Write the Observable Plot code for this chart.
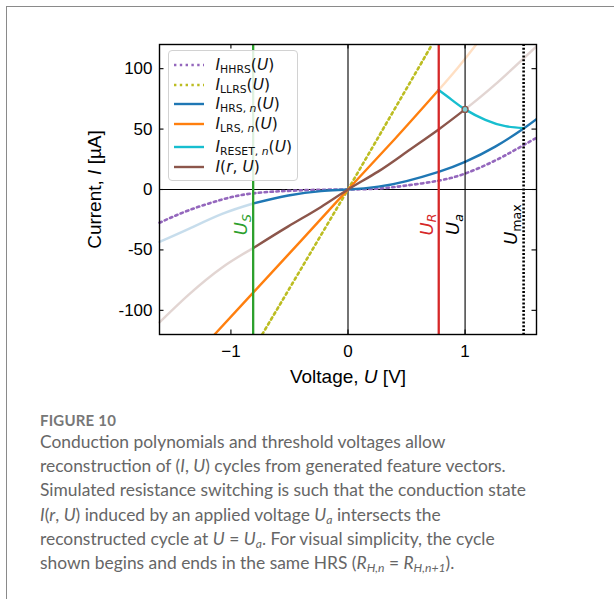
<!DOCTYPE html>
<html><head><meta charset="utf-8">
<script src="https://cdn.jsdelivr.net/npm/d3@7"></script>
<script src="https://cdn.jsdelivr.net/npm/@observablehq/plot@0.6"></script>
<style>
html,body{margin:0;padding:0;background:#fff;overflow:hidden;width:614px;height:599px;}
#box{position:absolute;left:6px;top:6px;width:640px;height:640px;border:1.5px solid #8a8a8a;}
#chart{position:absolute;left:0;top:0;}
#chart svg{font-family:'Liberation Sans',Arial,sans-serif;}
#legend{position:absolute;left:167.5px;top:50px;width:128px;height:129px;border:1px solid #d2d2d2;border-radius:4px;background:rgba(255,255,255,0.85);font-family:'DejaVu Sans',sans-serif;font-size:15.5px;color:#111;}
#legend .row{position:absolute;left:0;height:20px;}
#legend svg{position:absolute;left:5px;top:9px;}
#legend .lab{position:absolute;left:47px;top:0;white-space:nowrap;line-height:20px;}
#legend sub{font-size:70%;font-style:normal;vertical-align:-0.3em;line-height:0;}
#caption{position:absolute;left:40px;top:411px;width:570px;font-family:Lato,'Open Sans',sans-serif;color:#666;}
#caption .fig{font-size:15px;font-weight:bold;color:#777;letter-spacing:0.2px;}
#caption .txt{font-size:17.4px;line-height:24.2px;margin-top:1px;}
#caption sub{font-size:70%;vertical-align:-0.25em;line-height:0;}
</style></head><body>
<div id="box"></div>
<div id="chart"></div>
<div id="legend"></div>
<div id="caption">
<div class="fig">FIGURE 10</div>
<div class="txt">Conduction polynomials and threshold voltages allow<br>reconstruction of (<i>I</i>, <i>U</i>) cycles from generated feature vectors.<br>Simulated resistance switching is such that the conduction state<br><i>I</i>(<i>r</i>, <i>U</i>) induced by an applied voltage <i>U<sub>a</sub></i> intersects the<br>reconstructed cycle at <i>U</i> = <i>U<sub>a</sub></i>. For visual simplicity, the cycle<br>shown begins and ends in the same HRS (<i>R<sub>H,n</sub></i> = <i>R<sub>H,n+1</sub></i>).</div>
</div>
<script>
// ---- data ----
const xTicks = [-1, 0, 1];
const yTicks = [-100, -50, 0, 50, 100];
const xDomain = [-1.61, 1.61];
const yDomain = [-120, 120];

// I_HHRS(U) (dotted purple)
const hhrsU = [-1.61, -1.36, -1.075, -0.82, -0.51, -0.23, 0, 0.26, 0.5, 0.774, 1.0, 1.258, 1.486, 1.61];
const hhrsI = [-27.5, -17.2, -8.3, -3.3, -1.1, -0.2, 0, 0.8, 3.3, 7.3, 13.2, 24.0, 36.0, 42.8];
// I_LLRS(U) (dotted olive)
const llrsU = [-0.733, 0, 0.718];
const llrsI = [-120, 0, 120];
// I_HRS,n(U) blue: faded part (U < U_S) and solid part
const hrsFadedU = [-1.61, -1.36, -1.075, -0.81];
const hrsFadedI = [-43.4, -32.6, -20.2, -11.6];
const hrsU = [-0.81, -0.51, -0.23, 0, 0.26, 0.5, 0.774, 1.0, 1.258, 1.5, 1.61];
const hrsI = [-11.6, -5.0, -1.3, 0, 2.4, 7.0, 14.6, 22.9, 35.5, 50.5, 58.2];
// I_LRS,n(U) orange: solid up to U_R, faded beyond
const lrsU = [-1.14, -0.81, -0.4, 0, 0.4, 0.774];
const lrsI = [-120, -85.3, -42.3, 0, 41.8, 82.3];
const lrsFadedU = [0.774, 0.94, 1.095];
const lrsFadedI = [82.3, 101, 120];
// I_RESET,n(U) cyan
const resetU = [0.774, 0.889, 1.0, 1.173, 1.344, 1.5];
const resetI = [82.3, 74, 66.3, 57.6, 52.4, 50.8];
// I(r,U) brown: faded left, solid middle, faded right
const rFadedLU = [-1.61, -1.36, -1.075, -0.81];
const rFadedLI = [-110, -87, -64.5, -48.5];
const rU = [-0.81, -0.51, -0.23, 0, 0.26, 0.5, 0.774, 1.0];
const rI = [-48.5, -30.5, -14.4, 0, 15, 31, 49.7, 66.3];
const rFadedRU = [1.0, 1.258, 1.61];
const rFadedRI = [66.3, 87, 118.5];
// intersection point at U = U_a
const crossU = [1.0];
const crossI = [66.3];
// threshold voltages
const markerU = [-0.81, 0.775, 1.0, 1.5];
const markerLabel = ["US", "UR", "Ua", "Umax"];
const markerColor = ["#2ca02c", "#d62728", "#000000", "#000000"];
// legend
const legendLabels = [
  '<i>I</i><sub>HHRS</sub>(<i>U</i>)',
  '<i>I</i><sub>LLRS</sub>(<i>U</i>)',
  '<i>I</i><sub>HRS, <i>n</i></sub>(<i>U</i>)',
  '<i>I</i><sub>LRS, <i>n</i></sub>(<i>U</i>)',
  '<i>I</i><sub>RESET, <i>n</i></sub>(<i>U</i>)',
  '<i>I</i>(<i>r</i>, <i>U</i>)'
];
const legendColors = ["#9467bd", "#bcbd22", "#1f77b4", "#ff7f0e", "#17becf", "#8c564b"];
const legendDotted = [true, true, false, false, false, false];

// ---- build ----
const pts = (U, I) => U.map((u, k) => ({u, i: I[k]}));
const C = {purple:"#9467bd", olive:"#bcbd22", blue:"#1f77b4", orange:"#ff7f0e", cyan:"#17becf", brown:"#8c564b"};
const LW = 2.4, FADE = 0.25, DOT = "2.4,3.4";
const markers = markerU.map((u, k) => ({u, label: markerLabel[k], color: markerColor[k]}));
const fmtX = d => d < 0 ? "\u2212" + Math.abs(d) : String(d);
const FF = "'Liberation Sans', Arial, sans-serif";

const plot = Plot.plot({
  width: 614, height: 395,
  marginLeft: 159, marginRight: 78, marginTop: 44, marginBottom: 61,
  x: {domain: xDomain},
  y: {domain: yDomain},
  style: {fontFamily: FF, fontSize: "17px", background: "transparent", color: "#000", overflow: "visible"},
  marks: [
    Plot.ruleY([0], {stroke: "black", strokeWidth: 1.1}),
    Plot.ruleX([0], {stroke: "black", strokeWidth: 1.1}),
    // faded parts
    Plot.line(pts(hrsFadedU, hrsFadedI), {x: "u", y: "i", stroke: C.blue, strokeWidth: LW, strokeOpacity: FADE, curve: "natural"}),
    Plot.line(pts(rFadedLU, rFadedLI), {x: "u", y: "i", stroke: C.brown, strokeWidth: LW, strokeOpacity: FADE, curve: "natural"}),
    Plot.line(pts(rFadedRU, rFadedRI), {x: "u", y: "i", stroke: C.brown, strokeWidth: LW, strokeOpacity: FADE, curve: "natural", clip: true}),
    Plot.line(pts(lrsFadedU, lrsFadedI), {x: "u", y: "i", stroke: C.orange, strokeWidth: LW, strokeOpacity: FADE, curve: "natural", clip: true}),
    // dotted envelopes
    Plot.line(pts(hhrsU, hhrsI), {x: "u", y: "i", stroke: C.purple, strokeWidth: 2.6, strokeDasharray: DOT, curve: "natural"}),
    Plot.line(pts(llrsU, llrsI), {x: "u", y: "i", stroke: C.olive, strokeWidth: 2.6, strokeDasharray: DOT, clip: true}),
    // solid parts
    Plot.line(pts(hrsU, hrsI), {x: "u", y: "i", stroke: C.blue, strokeWidth: LW, curve: "natural", clip: true}),
    Plot.line(pts(lrsU, lrsI), {x: "u", y: "i", stroke: C.orange, strokeWidth: LW, curve: "natural", clip: true}),
    Plot.line(pts(resetU, resetI), {x: "u", y: "i", stroke: C.cyan, strokeWidth: LW, curve: "natural"}),
    Plot.line(pts(rU, rI), {x: "u", y: "i", stroke: C.brown, strokeWidth: LW, curve: "natural"}),
    // threshold voltage lines
    Plot.ruleX(markers.filter(d => d.label === "US" || d.label === "UR"), {x: "u", stroke: "color", strokeWidth: 2.3}),
    Plot.ruleX(markers.filter(d => d.label === "Ua"), {x: "u", stroke: "color", strokeWidth: 1.1}),
    Plot.ruleX(markers.filter(d => d.label === "Umax"), {x: "u", stroke: "color", strokeWidth: 2.6, strokeDasharray: "2,1.8"}),
    Plot.dot(pts(crossU, crossI), {x: "u", y: "i", r: 3, stroke: C.brown, fill: "#7fcfd6", strokeWidth: 1.3}),
    Plot.text(markers, {x: "u", y: -29, text: "label", rotate: -90, dx: -12, fill: "color", fontSize: 18, fontFamily: "'DejaVu Sans', sans-serif", textAnchor: "middle", lineAnchor: "middle"}),
    // frame + inward ticks on all sides
    Plot.frame({stroke: "black", strokeWidth: 1.4}),
    Plot.ruleX(xTicks, {x: d => d, y1: yDomain[0], y2: yDomain[0], insetTop: -4.5, stroke: "black", strokeWidth: 1.1}),
    Plot.ruleX(xTicks, {x: d => d, y1: yDomain[1], y2: yDomain[1], insetBottom: -4.5, stroke: "black", strokeWidth: 1.1}),
    Plot.ruleY(yTicks, {y: d => d, x1: xDomain[0], x2: xDomain[0], insetRight: -4.5, stroke: "black", strokeWidth: 1.1}),
    Plot.ruleY(yTicks, {y: d => d, x1: xDomain[1], x2: xDomain[1], insetLeft: -4.5, stroke: "black", strokeWidth: 1.1}),
    Plot.axisX(xTicks, {tickSize: 0, tickPadding: 10, tickFormat: fmtX, label: null, fontSize: 17, fontFamily: FF}),
    Plot.axisY(yTicks, {tickSize: 0, tickPadding: 7, tickFormat: d => String(d), label: null, fontSize: 17, fontFamily: FF}),
    Plot.text(["XLABEL"], {frameAnchor: "bottom", dy: 42, text: d => d, fontSize: 19, fontFamily: FF, lineAnchor: "middle", textAnchor: "middle"}),
    Plot.text(["YLABEL"], {frameAnchor: "left", dx: -65, rotate: -90, text: d => d, fontSize: 19, fontFamily: FF, lineAnchor: "middle", textAnchor: "middle"})
  ]
});
document.getElementById("chart").appendChild(plot);

// rich text for labels (italic math symbols, subscripts)
const markup = {
  XLABEL: 'Voltage, <tspan font-style="italic">U</tspan> [V]',
  YLABEL: 'Current, <tspan font-style="italic">I</tspan> [\u00b5A]',
  US: '<tspan font-style="italic">U</tspan><tspan font-style="italic" font-size="0.7em" dy="0.3em">S</tspan>',
  UR: '<tspan font-style="italic">U</tspan><tspan font-style="italic" font-size="0.7em" dy="0.3em">R</tspan>',
  Ua: '<tspan font-style="italic">U</tspan><tspan font-style="italic" font-size="0.7em" dy="0.3em">a</tspan>',
  Umax: '<tspan font-style="italic">U</tspan><tspan font-size="0.7em" dy="0.3em">max</tspan>'
};
plot.querySelectorAll("text").forEach(t => {
  const s = t.textContent;
  if (markup[s]) t.innerHTML = markup[s];
});

// legend
const legend = document.getElementById("legend");
const rowCenters = [14.3, 33.5, 53.3, 72.7, 96, 116];
legendLabels.forEach((lab, k) => {
  const row = document.createElement("div");
  row.className = "row";
  row.style.top = (rowCenters[k] - 10) + "px";
  row.style.width = "128px";
  const dash = legendDotted[k] ? `stroke-dasharray="${DOT}"` : '';
  row.innerHTML = `<svg width="32" height="3" style="overflow:visible"><line x1="0" x2="30" y1="1" y2="1" stroke="${legendColors[k]}" stroke-width="${legendDotted[k] ? 2.6 : 2.4}" ${dash}/></svg><span class="lab">${lab}</span>`;
  legend.appendChild(row);
});
</script>
</body></html>
